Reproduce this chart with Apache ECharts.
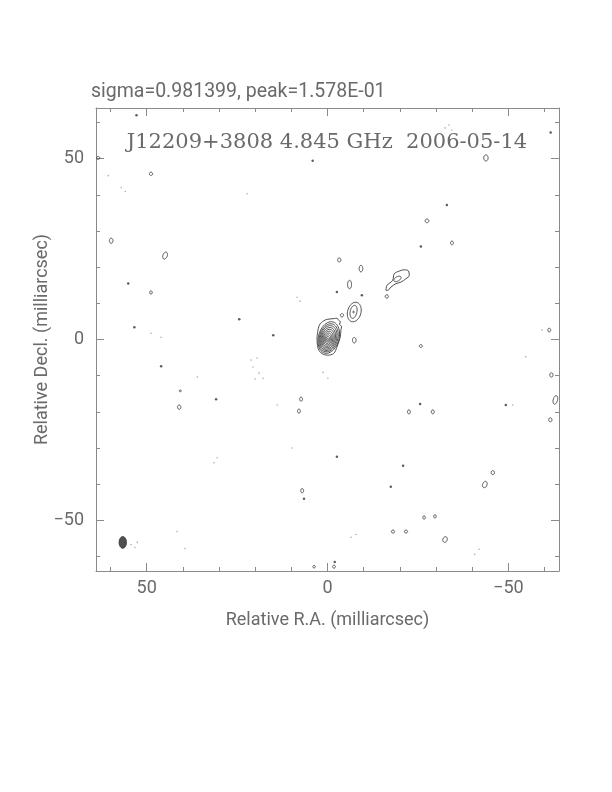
<!DOCTYPE html>
<html><head><meta charset="utf-8">
<script src="https://cdn.jsdelivr.net/npm/echarts@6/dist/echarts.min.js"></script>
<style>html,body{margin:0;padding:0;background:#fff}#c{width:612px;height:792px}</style>
</head><body><div id="c"></div>
<script>
// ---- text ----
const headerText = 'sigma=0.981399, peak=1.578E-01';
const titleText = 'J12209+3808 4.845 GHz  2006-05-14';
const xName = 'Relative R.A. (milliarcsec)';
const yName = 'Relative Decl. (milliarcsec)';
// ---- axes (milliarcsec) ----
const axisMin = -64, axisMax = 64;
const majorTicks = [-50, 0, 50];
const minorTicks = [-60, -40, -30, -20, -10, 10, 20, 30, 40, 60];
// ---- contours (RA offset, Dec offset in mas) ----
const coreOuter = [[2.9,0.7],[2.27,3.94],[1.0,5.2],[-0.06,5.59],[-1.88,5.79],[-2.6,5.9],[-3.1,5.3],[-3.6,4.9],[-3.3,4.2],[-3.9,3.6],[-3.7,2.6],[-3.54,0.72],[-2.62,-2.04],[-1.71,-3.86],[-0.06,-4.33],[1.8,-3.69],[2.71,-2.04],[2.9,0.7]];
// [cx, cy, semiRA, semiDec, tiltDeg]
const coreLevels = [
  [-0.35,0.55,2.85,4.45,15],[-0.3,0.47,2.55,3.95,15],[-0.25,0.4,2.25,3.5,15],
  [-0.2,0.32,1.95,3.05,15],[-0.16,0.26,1.65,2.6,15],[-0.12,0.2,1.35,2.15,15],
  [-0.08,0.14,1.05,1.7,15],[-0.05,0.08,0.75,1.25,15],[-0.02,0.04,0.48,0.8,15],[0,0,0.22,0.35,15]
];
const knotLevels = [[-7.4,7.6,1.85,2.75,15],[-7.2,7.65,0.93,1.83,12],[-7.2,7.6,0.2,0.25,0]];
const jetOuter = [[-16.16,13.58],[-16.44,14.96],[-18.01,16.34],[-18.45,18.18],[-19.83,18.9],[-21.22,19.28],[-22.43,18.9],[-22.6,17.71],[-21.69,16.8],[-20.3,15.87],[-18.92,15.43],[-17.54,14.49],[-16.63,13.58],[-16.16,13.58]];
const jetInner = [[-19.34,16.75,1.1,0.6,-30]];
const smallContours = [
  [63.4,50.2,0.45,0.4,0],[48.8,45.8,0.45,0.45,0],[59.8,27.3,0.5,0.7,0],[44.9,23.2,0.6,1.0,20],
  [48.8,13.0,0.35,0.45,0],[41.0,-18.7,0.45,0.6,0],[40.7,-14.2,0.25,0.25,0],[7.3,-16.5,0.4,0.55,0],
  [7.9,-19.8,0.4,0.55,0],[7.0,-41.8,0.4,0.6,0],[-3.26,22.0,0.45,0.55,0],[-4.0,6.7,0.45,0.45,0],
  [-7.4,-0.2,0.5,0.75,0],[-6.1,15.2,0.55,1.15,0],[-9.25,19.6,0.5,0.9,0],[-16.4,11.9,0.45,0.45,0],
  [-25.8,-1.8,0.4,0.4,0],[-27.5,32.8,0.5,0.5,0],[-34.4,26.7,0.4,0.5,0],[-22.5,-20.0,0.4,0.55,0],
  [-29.1,-20.0,0.4,0.55,0],[-18.1,-53.1,0.45,0.4,0],[-21.7,-53.1,0.45,0.4,0],[-26.7,-49.2,0.35,0.45,0],
  [-29.7,-48.9,0.35,0.45,0],[-32.5,-55.3,0.6,0.8,20],[-43.5,-40.1,0.6,0.9,20],[-45.7,-36.8,0.45,0.55,0],
  [-43.8,50.2,0.6,0.85,0],[-61.3,2.6,0.4,0.5,0],[-61.9,-9.8,0.45,0.6,0],[-63.0,-16.7,0.6,1.2,15],
  [-61.6,-22.2,0.45,0.55,0],[3.7,-62.8,0.35,0.35,0],[-1.8,-62.8,0.4,0.4,0]
];
const dots = [[52.8,62.0],[55.1,15.5],[53.4,3.4],[46.0,-7.4],[24.4,5.6],[15.0,1.2],[-2.6,13.1],[-9.5,12.2],
  [4.1,49.4],[-2.6,-32.4],[-20.9,-34.9],[-17.5,-40.7],[-25.6,-17.8],[-49.3,-18.1],[-61.7,57.2],
  [-25.8,25.7],[-33.0,37.2],[30.8,-16.5],[6.5,-44.0],[-2.0,-61.5]];
const negDots = [[57.0,42.0],[55.9,40.9],[60.6,45.3],[22.2,40.3],[21.1,-5.7],[19.5,-5.1],[20.6,-7.6],[18.9,-9.3],
  [17.8,-10.7],[20.0,-10.9],[8.4,11.7],[7.6,10.6],[36.0,-10.4],[48.8,1.7],[46.0,0.6],[-0.1,-10.7],[1.2,-9.1],
  [9.8,-30.0],[13.9,-18.1],[31.4,-34.1],[30.5,-32.7],[41.6,-53.1],[39.4,-57.8],[54.3,-56.7],[53.2,-57.5],
  [52.6,-56.1],[-6.5,-54.7],[-7.9,-53.9],[-40.7,-59.4],[-41.9,-58.0],[-51.2,-18.1],[-32.5,58.5],[-33.6,59.3],
  [-34.4,57.9],[-59.3,2.6],[-54.8,-4.8]];
const beam = [[56.6,-56.1,1.0,1.6,0]];

const FONT = 'Roboto, "Liberation Sans", sans-serif';
const TXT = '#6a6a6a';
const LINE = '#3a3a3a';
const FRAME = '#8a8a8a';

function ellipseRenderer(fill){
  return function(params, api){
    const c = api.coord([api.value(0), api.value(1)]);
    const s = api.size([api.value(2), api.value(3)], [api.value(0), api.value(1)]);
    const ax = Math.abs(s[0]), by = Math.abs(s[1]);
    const th = api.value(4) * Math.PI / 180;
    const pts = [];
    for (let i = 0; i < 48; i++) {
      const t = i / 48 * 2 * Math.PI;
      const u = ax * Math.cos(t), v = by * Math.sin(t);
      const X = u * Math.cos(th) + v * Math.sin(th);
      const Y = -u * Math.sin(th) + v * Math.cos(th);
      pts.push([c[0] + X, c[1] - Y]);
    }
    return {type:'polygon', shape:{points:pts},
      style: fill ? {fill:fill, stroke:'#333', lineWidth:1} : {fill:'none', stroke:LINE, lineWidth:0.9}};
  };
}
function ellSeries(data, fill){
  return {type:'custom', xAxisIndex:0, yAxisIndex:0, data:data, encode:{x:0,y:1},
    renderItem: ellipseRenderer(fill), silent:true, z:5};
}
function lineSeries(data){
  return {type:'line', xAxisIndex:0, yAxisIndex:0, data:data, symbol:'none', smooth:0.35,
    lineStyle:{color:LINE, width:0.9}, silent:true, z:5};
}
const fmt = v => v < 0 ? '\u2212' + (-v) : String(v);
function xAx(pos, ticks, len, withLine, withLabel){
  return {type:'value', gridIndex:0, min:axisMin, max:axisMax, inverse:true, position:pos,
    axisLine:{show:withLine, onZero:false, lineStyle:{color:FRAME, width:1}},
    axisTick:{show:true, inside:true, length:len, customValues:ticks, lineStyle:{color:FRAME, width:1}},
    axisLabel:{show:withLabel, customValues:majorTicks, formatter:fmt, margin:8, fontSize:18, color:TXT, fontFamily:FONT},
    splitLine:{show:false},
    name: withLabel ? xName : '', nameLocation:'middle', nameGap:40, nameMoveOverlap:false,
    nameTextStyle:{fontSize:18, color:TXT, fontFamily:FONT}};
}
function yAx(pos, ticks, len, withLine, withLabel){
  return {type:'value', gridIndex:0, min:axisMin, max:axisMax, position:pos,
    axisLine:{show:withLine, onZero:false, lineStyle:{color:FRAME, width:1}},
    axisTick:{show:true, inside:true, length:len, customValues:ticks, lineStyle:{color:FRAME, width:1}},
    axisLabel:{show:withLabel, customValues:majorTicks, formatter:fmt, margin:12, fontSize:18, color:TXT, fontFamily:FONT},
    splitLine:{show:false},
    name: withLabel ? yName : '', nameLocation:'middle', nameGap:45, nameMoveOverlap:false,
    nameTextStyle:{fontSize:18, color:TXT, fontFamily:FONT}};
}

const chart = echarts.init(document.getElementById('c'), null, {renderer:'canvas'});
chart.setOption({
  backgroundColor:'#fff',
  animation:false,
  grid:{left:96, top:108, width:463, height:463, outerBoundsMode:'none'},
  xAxis:[xAx('bottom', majorTicks, 8, true, true), xAx('bottom', minorTicks, 4, false, false),
         xAx('top', majorTicks, 8, true, false), xAx('top', minorTicks, 4, false, false)],
  yAxis:[yAx('left', majorTicks, 8, true, true), yAx('left', minorTicks, 4, false, false),
         yAx('right', majorTicks, 8, true, false), yAx('right', minorTicks, 4, false, false)],
  graphic:[
    {type:'text', left:91, top:82, style:{text:headerText, fontSize:19.5, fill:TXT, fontFamily:FONT}},
    {type:'text', x:327, y:143, style:{text:titleText, align:'center', verticalAlign:'middle', fontSize:21, fill:TXT, fontFamily:'"DejaVu Serif", serif'}}
  ],
  series:[
    lineSeries(coreOuter),
    ellSeries(coreLevels),
    ellSeries(knotLevels),
    lineSeries(jetOuter),
    ellSeries(jetInner),
    ellSeries(smallContours),
    {type:'scatter', xAxisIndex:0, yAxisIndex:0, data:dots, symbol:'circle', symbolSize:2.5, itemStyle:{color:'#333'}, silent:true},
    {type:'scatter', xAxisIndex:0, yAxisIndex:0, data:negDots, symbol:'circle', symbolSize:1.6, itemStyle:{color:'#9a9a9a'}, silent:true},
    ellSeries(beam, '#505050')
  ]
});
</script></body></html>
